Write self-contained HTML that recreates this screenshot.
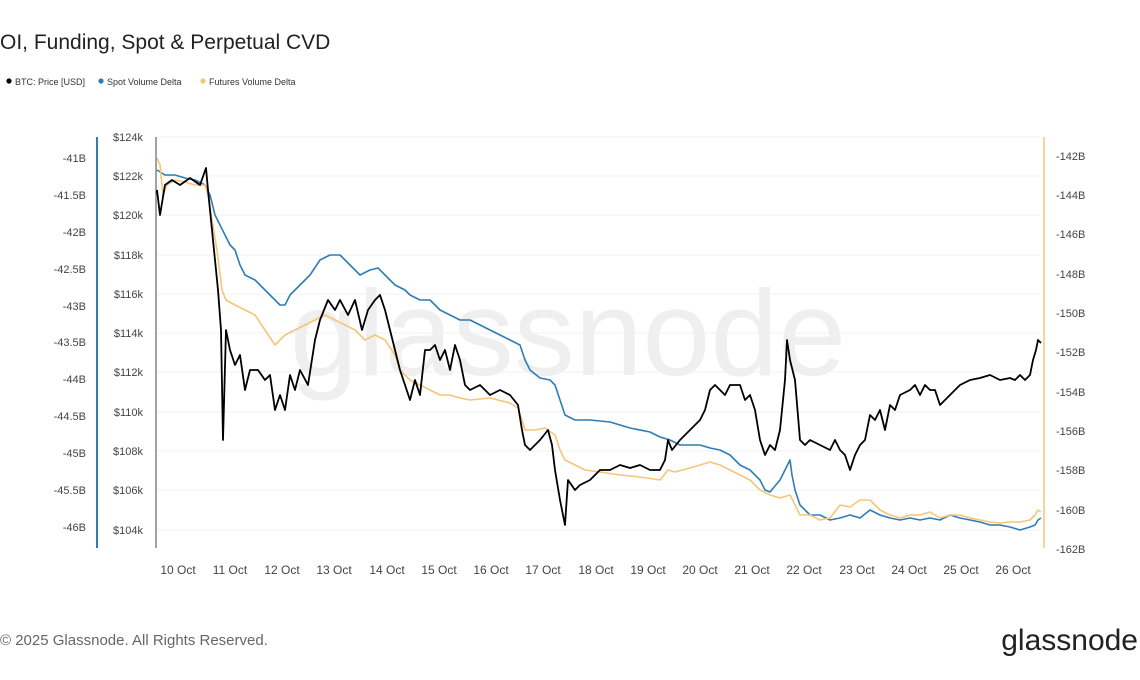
<!DOCTYPE html>
<html><head><meta charset="utf-8"><style>
body{margin:0;background:#fff;width:1140px;height:675px;overflow:hidden;font-family:"Liberation Sans",sans-serif}
</style></head><body>
<svg width="1140" height="675" xmlns="http://www.w3.org/2000/svg" font-family="Liberation Sans, sans-serif">
<text x="0" y="49" font-size="21" fill="#222">OI, Funding, Spot &amp; Perpetual CVD</text>
<circle cx="9" cy="81" r="2.6" fill="#000"/><text x="15" y="85" font-size="9" fill="#333">BTC: Price [USD]</text>
<circle cx="101" cy="81" r="2.6" fill="#2e7db5"/><text x="107" y="85" font-size="9" fill="#333">Spot Volume Delta</text>
<circle cx="203" cy="81" r="2.6" fill="#f5c678"/><text x="209" y="85" font-size="9" fill="#333">Futures Volume Delta</text>
<text x="568" y="375" font-size="122" fill="#efefef" text-anchor="middle">glassnode</text>
<g stroke="#f2f2f2" stroke-width="1">
<line x1="156" y1="137" x2="1040" y2="137"/><line x1="156" y1="176" x2="1040" y2="176"/><line x1="156" y1="215" x2="1040" y2="215"/><line x1="156" y1="255" x2="1040" y2="255"/><line x1="156" y1="294" x2="1040" y2="294"/><line x1="156" y1="333" x2="1040" y2="333"/><line x1="156" y1="372" x2="1040" y2="372"/><line x1="156" y1="412" x2="1040" y2="412"/><line x1="156" y1="451" x2="1040" y2="451"/><line x1="156" y1="490" x2="1040" y2="490"/><line x1="156" y1="530" x2="1040" y2="530"/>
</g>
<line x1="97" y1="137" x2="97" y2="548" stroke="#2e7db5" stroke-width="2"/>
<line x1="1044" y1="137" x2="1044" y2="548" stroke="#f5c678" stroke-width="1.5"/>
<line x1="156" y1="137" x2="156" y2="548" stroke="#444" stroke-width="1"/>
<g font-size="11" fill="#444" text-anchor="end">
<text x="86" y="162">-41B</text><text x="86" y="199">-41.5B</text><text x="86" y="236">-42B</text><text x="86" y="273">-42.5B</text><text x="86" y="310">-43B</text><text x="86" y="346">-43.5B</text><text x="86" y="383">-44B</text><text x="86" y="420">-44.5B</text><text x="86" y="457">-45B</text><text x="86" y="494">-45.5B</text><text x="86" y="531">-46B</text>
<text x="143" y="141">$124k</text><text x="143" y="180">$122k</text><text x="143" y="219">$120k</text><text x="143" y="259">$118k</text><text x="143" y="298">$116k</text><text x="143" y="337">$114k</text><text x="143" y="376">$112k</text><text x="143" y="416">$110k</text><text x="143" y="455">$108k</text><text x="143" y="494">$106k</text><text x="143" y="534">$104k</text>
</g>
<g font-size="11" fill="#444">
<text x="1056" y="160">-142B</text><text x="1056" y="199">-144B</text><text x="1056" y="238">-146B</text><text x="1056" y="278">-148B</text><text x="1056" y="317">-150B</text><text x="1056" y="356">-152B</text><text x="1056" y="396">-154B</text><text x="1056" y="435">-156B</text><text x="1056" y="474">-158B</text><text x="1056" y="514">-160B</text><text x="1056" y="553">-162B</text>
</g>
<g font-size="12" fill="#444" text-anchor="middle">
<text x="178" y="574">10 Oct</text><text x="230" y="574">11 Oct</text><text x="282" y="574">12 Oct</text><text x="334" y="574">13 Oct</text><text x="387" y="574">14 Oct</text><text x="439" y="574">15 Oct</text><text x="491" y="574">16 Oct</text><text x="543" y="574">17 Oct</text><text x="596" y="574">18 Oct</text><text x="648" y="574">19 Oct</text><text x="700" y="574">20 Oct</text><text x="752" y="574">21 Oct</text><text x="804" y="574">22 Oct</text><text x="857" y="574">23 Oct</text><text x="909" y="574">24 Oct</text><text x="961" y="574">25 Oct</text><text x="1013" y="574">26 Oct</text>
</g>
<polyline fill="none" stroke="#2e7db5" stroke-width="1.6" stroke-linejoin="round" points="157,170 165,175 175,175 185,178 195,180 205,185 210,195 215,215 220,225 225,235 230,245 235,250 240,265 245,275 255,280 265,290 275,300 280,305 285,305 290,295 300,285 310,275 320,260 330,255 340,255 350,265 360,275 370,270 378,268 385,275 395,285 405,290 410,295 420,300 430,300 440,310 450,315 460,320 470,320 480,325 490,330 500,335 510,340 520,345 525,360 530,370 540,378 550,380 555,385 560,400 565,415 575,420 590,420 610,422 630,428 650,432 660,437 670,440 680,445 690,445 700,445 710,448 720,450 730,455 740,465 750,470 760,480 765,490 770,492 780,480 785,470 790,460 792,475 795,490 800,505 810,515 820,515 830,520 840,518 850,515 860,518 870,510 880,515 890,518 900,520 910,518 920,520 930,518 940,520 950,515 960,518 970,520 980,522 990,525 1000,525 1010,527 1020,530 1030,527 1035,525 1038,520 1041,518"/>
<polyline fill="none" stroke="#f5c678" stroke-width="1.6" stroke-linejoin="round" points="157,158 160,165 163,195 167,185 175,180 185,182 195,185 205,185 208,195 212,220 217,250 222,290 226,300 235,305 245,310 255,315 265,330 275,345 285,335 295,330 305,325 315,320 325,315 335,320 345,325 355,330 365,340 375,335 385,340 395,355 400,370 410,380 420,385 430,390 440,395 450,395 460,398 470,400 490,398 510,403 518,408 522,420 525,430 535,430 545,428 555,435 560,450 565,460 575,465 585,470 600,472 620,475 640,477 660,480 668,470 675,472 690,468 700,465 710,462 720,465 730,470 740,475 750,480 760,490 770,495 780,498 790,495 795,505 800,515 810,515 820,520 830,518 840,505 850,507 860,500 870,500 875,505 880,510 890,515 900,518 910,515 920,515 930,512 940,518 950,515 960,515 970,518 980,520 990,522 1000,523 1010,522 1020,522 1030,520 1035,515 1038,510 1041,512"/>
<polyline fill="none" stroke="#000" stroke-width="1.8" stroke-linejoin="round" points="157,190 160,215 165,185 172,180 180,185 190,178 200,185 206,168 208,190 212,230 218,290 221,330 223,440 226,330 230,350 235,365 240,355 245,390 250,370 258,370 265,380 270,375 275,410 280,395 285,410 290,375 295,390 300,370 308,385 315,340 320,320 328,300 335,310 340,300 348,315 355,300 362,330 368,310 375,300 380,295 385,310 390,330 395,350 400,370 405,385 410,400 415,380 420,395 425,350 430,350 435,345 440,360 445,350 450,370 455,345 460,360 465,385 470,390 480,385 490,395 500,390 510,395 518,405 522,430 525,445 530,450 540,440 548,430 552,445 555,470 560,500 565,525 568,480 575,490 580,485 590,480 600,470 610,470 620,465 630,468 640,465 650,470 660,470 665,460 668,440 672,450 680,440 690,430 700,420 705,410 710,390 715,385 720,390 725,395 730,385 740,385 745,400 750,395 755,410 760,440 765,455 770,445 775,450 780,430 785,380 787,340 790,360 795,380 800,440 805,445 810,440 820,445 830,450 835,440 840,450 845,455 850,470 855,455 860,445 865,440 870,415 875,420 880,410 885,430 890,405 895,410 900,395 910,390 915,385 920,395 925,385 930,390 935,390 940,405 945,400 950,395 960,385 970,380 980,378 990,375 1000,380 1010,378 1015,380 1020,375 1025,380 1030,375 1033,360 1036,350 1038,340 1041,343"/>
<text x="0" y="645" font-size="15" fill="#666">© 2025 Glassnode. All Rights Reserved.</text>
<text x="1138" y="650" font-size="30" fill="#222" text-anchor="end">glassnode</text>
</svg>
</body></html>
